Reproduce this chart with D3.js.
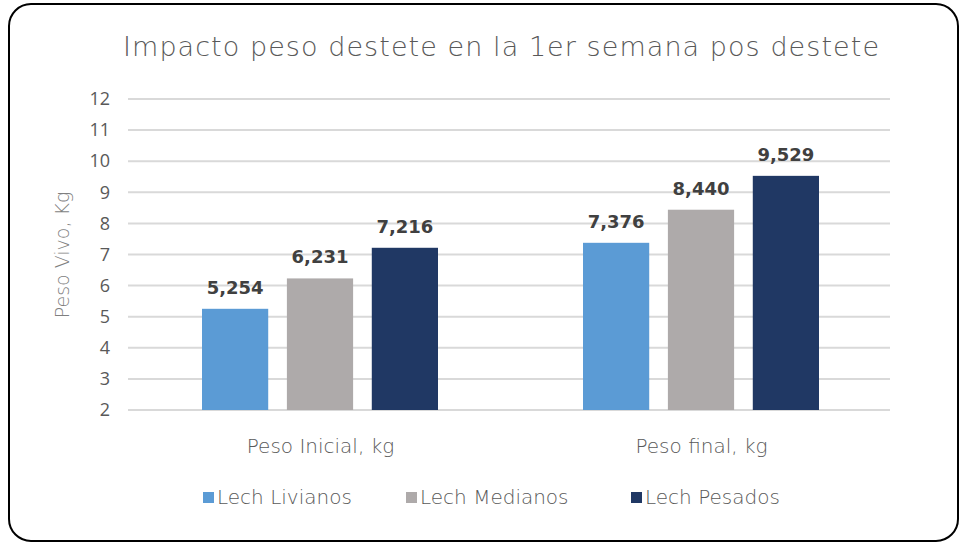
<!DOCTYPE html>
<head>
  <style>
    body { margin: 0; background: #fff; }
    svg { font-family: "DejaVu Sans", sans-serif; }
  </style>
</head>
<body>
  <script src="https://cdn.jsdelivr.net/npm/d3@7"></script>
  <script>
    // chart data
    var categories = ["Peso Inicial, kg", "Peso final, kg"];
    var seriesNames = ["Lech Livianos", "Lech Medianos", "Lech Pesados"];
    var livianos = [5.254, 7.376];
    var medianos = [6.231, 8.440];
    var pesados = [7.216, 9.529];
    var yTicks = [2, 3, 4, 5, 6, 7, 8, 9, 10, 11, 12];
    var colors = ["#5B9BD5", "#AEAAAA", "#203864"];

    var W = 963, H = 545;
    var margin = {top: 99, right: 73, bottom: 135, left: 128};
    var width = W - margin.left - margin.right;
    var height = H - margin.top - margin.bottom;

    var svg = d3.select("body").append("svg")
      .attr("width", W).attr("height", H);

    // rounded frame
    svg.append("rect")
      .attr("x", 9).attr("y", 4)
      .attr("width", 949).attr("height", 537)
      .attr("rx", 22).attr("ry", 22)
      .attr("fill", "#fff")
      .attr("stroke", "#000").attr("stroke-width", 2);

    var g = svg.append("g")
      .attr("transform", "translate(" + margin.left + "," + margin.top + ")");

    var yScale = d3.scaleLinear().domain([2, 12]).range([height, 0]);
    var x0 = d3.scaleBand().domain(categories).range([0, width]);
    var x1 = d3.scaleBand().domain(seriesNames)
      .range([74, x0.bandwidth() - 71]).paddingInner(0.22);

    // gridlines
    g.append("g").selectAll("line")
      .data(yTicks).enter().append("line")
      .attr("x1", 0).attr("x2", width)
      .attr("y1", function(d) { return yScale(d); })
      .attr("y2", function(d) { return yScale(d); })
      .attr("stroke", "#D9D9D9").attr("stroke-width", 2);

    // y axis
    var yAxis = d3.axisLeft(yScale).tickValues(yTicks).tickSize(0).tickPadding(18);
    var ya = g.append("g").call(yAxis);
    ya.select(".domain").remove();
    ya.selectAll("text")
      .attr("fill", "#595959")
      .style("font-size", "18px")
      .style("font-family", "'Open Sans', sans-serif");

    // bars
    var rows = categories.map(function(c, i) {
      return {cat: c, vals: [livianos[i], medianos[i], pesados[i]]};
    });
    var groups = g.selectAll(".grp").data(rows).enter().append("g")
      .attr("class", "grp")
      .attr("transform", function(d) { return "translate(" + x0(d.cat) + ",0)"; });

    groups.selectAll("rect")
      .data(function(d) { return d.vals.map(function(v, j) { return {s: seriesNames[j], v: v, j: j}; }); })
      .enter().append("rect")
      .attr("x", function(d) { return x1(d.s); })
      .attr("width", x1.bandwidth())
      .attr("y", function(d) { return yScale(d.v); })
      .attr("height", function(d) { return height - yScale(d.v); })
      .attr("fill", function(d) { return colors[d.j]; });

    var fmt = function(v) { return v.toFixed(3).replace(".", ","); };
    groups.selectAll(".val")
      .data(function(d) { return d.vals.map(function(v, j) { return {s: seriesNames[j], v: v}; }); })
      .enter().append("text")
      .attr("class", "val")
      .attr("x", function(d) { return x1(d.s) + x1.bandwidth() / 2; })
      .attr("y", function(d) { return yScale(d.v) - 15; })
      .attr("text-anchor", "middle")
      .attr("fill", "#404040")
      .style("font-size", "18px")
      .style("font-weight", "bold")
      .text(function(d) { return fmt(d.v); });

    // category labels
    g.selectAll(".cat").data(categories).enter().append("text")
      .attr("class", "cat")
      .attr("x", function(d) { return x0(d) + x0.bandwidth() / 2 + 2; })
      .attr("y", height + 43)
      .attr("text-anchor", "middle")
      .attr("fill", "#595959")
      .style("font-size", "20px")
      .style("font-weight", "200")
      .text(function(d) { return d; });

    // y axis label
    svg.append("text")
      .attr("transform", "translate(69,255) rotate(-90)")
      .attr("text-anchor", "middle")
      .attr("fill", "#7F7F7F")
      .style("font-size", "19px")
      .style("font-weight", "200")
      .text("Peso Vivo, Kg");

    // title
    svg.append("text")
      .attr("x", 501).attr("y", 56)
      .attr("text-anchor", "middle")
      .attr("fill", "#595959")
      .attr("textLength", 756)
      .style("font-size", "27px")
      .style("font-weight", "200")
      .text("Impacto peso destete en la 1er semana pos destete");

    // legend
    var legX = [203, 406, 631];
    var leg = svg.selectAll(".leg").data(seriesNames).enter().append("g")
      .attr("class", "leg")
      .attr("transform", function(d, i) { return "translate(" + legX[i] + ",492)"; });
    leg.append("rect")
      .attr("width", 11).attr("height", 11)
      .attr("fill", function(d, i) { return colors[i]; });
    leg.append("text")
      .attr("x", 14).attr("y", 12)
      .attr("fill", "#595959")
      .style("font-size", "20px")
      .style("font-weight", "200")
      .text(function(d) { return d; });
  </script>
</body>
